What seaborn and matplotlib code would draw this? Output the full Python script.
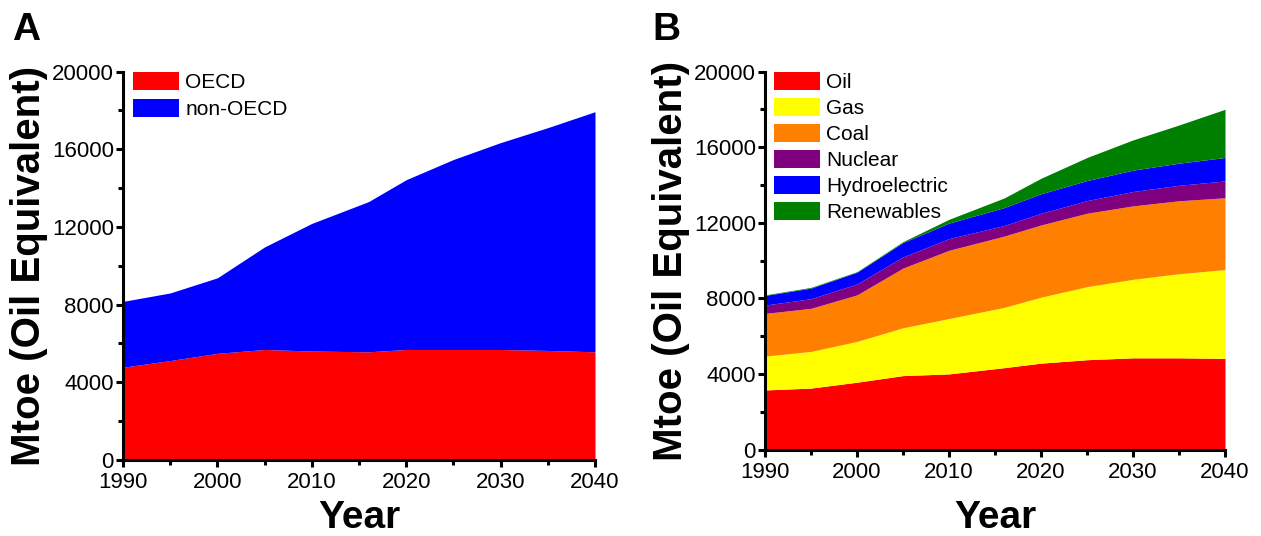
import matplotlib
matplotlib.use("Agg")
import matplotlib.pyplot as plt
from matplotlib.ticker import MultipleLocator
from matplotlib.patches import Patch
import seaborn as sns

# ---------------- data (Mtoe) ----------------
years = [1990, 1995, 2000, 2005, 2010, 2016, 2020, 2025, 2030, 2035, 2040]

# Panel A
oecd = [4775, 5120, 5490, 5690, 5610, 5570, 5690, 5690, 5690, 5640, 5570]
non_oecd = [3390, 3480, 3890, 5280, 6570, 7730, 8740, 9780, 10650, 11470, 12360]
region_labels = ["OECD", "non-OECD"]

# Panel B
oil = [3150, 3250, 3560, 3910, 4000, 4330, 4570, 4750, 4850, 4850, 4820]
gas = [1790, 1940, 2160, 2530, 2930, 3190, 3490, 3865, 4155, 4450, 4700]
coal = [2260, 2280, 2460, 3160, 3610, 3770, 3820, 3885, 3885, 3860, 3800]
nuclear = [440, 510, 580, 590, 620, 560, 620, 670, 760, 820, 890]
hydro = [510, 560, 620, 760, 820, 950, 1030, 1060, 1130, 1170, 1240]
renewables = [30, 40, 30, 50, 200, 510, 820, 1220, 1600, 2020, 2550]
fuel_labels = ["Oil", "Gas", "Coal", "Nuclear", "Hydroelectric", "Renewables"]

x_ticks = [1990, 2000, 2010, 2020, 2030, 2040]
y_ticks = [0, 4000, 8000, 12000, 16000, 20000]

region_colors = ["#FF0000", "#0000FF"]
fuel_colors = ["#FF0000", "#FFFF00", "#FF8000", "#800080", "#0000FF", "#008000"]

# ---------------- style ----------------
sns.set_theme(style="ticks")
plt.rcParams["font.family"] = ["Liberation Sans", "DejaVu Sans"]
plt.rcParams.update({
    "axes.linewidth": 2.2,
    "xtick.major.width": 2.2, "ytick.major.width": 2.2,
    "xtick.minor.width": 2.2, "ytick.minor.width": 2.2,
    "xtick.major.size": 5, "ytick.major.size": 5,
    "xtick.minor.size": 3.5, "ytick.minor.size": 3.5,
    "xtick.direction": "out", "ytick.direction": "out",
    "xtick.color": "black", "ytick.color": "black",
    "xtick.labelcolor": "black", "ytick.labelcolor": "black",
    "axes.edgecolor": "black", "axes.labelcolor": "black",
    "text.color": "black",
})

W, H = 1261, 536
fig = plt.figure(figsize=(W / 100, H / 100), dpi=100)

axA = fig.add_axes([123 / W, 1 - 460 / H, 472 / W, 388.5 / H])
axB = fig.add_axes([765 / W, 1 - 449.5 / H, 460 / W, 378 / H])


def style_axis(ax, tag, tag_x, xlabelpad, ylabel_x):
    ax.set_xlim(1990, 2040)
    ax.set_ylim(0, 20000)
    ax.set_xticks(x_ticks)
    ax.set_yticks(y_ticks)
    ax.xaxis.set_minor_locator(MultipleLocator(5))
    ax.yaxis.set_minor_locator(MultipleLocator(2000))
    ax.tick_params(axis="both", which="major", labelsize=16, colors="black")
    ax.tick_params(axis="x", which="major", pad=4)
    ax.tick_params(axis="y", which="major", pad=1.5)
    ax.set_xticklabels([str(v) for v in x_ticks])
    ax.set_yticklabels([str(v) for v in y_ticks])
    sns.despine(ax=ax)
    ax.set_xlabel("Year", fontsize=28, fontweight="bold", labelpad=xlabelpad)
    ax.set_ylabel("Mtoe (Oil Equivalent)", fontsize=29, fontweight="bold")
    ax.yaxis.set_label_coords(ylabel_x, 0.5)
    ax.set_facecolor("white")
    fig.text(tag_x / W, 1 - 40 / H, tag, fontsize=28, fontweight="bold",
             ha="left", va="baseline", color="black")


# Panel A
axA.stackplot(years, oecd, non_oecd, colors=region_colors, linewidth=0)
style_axis(axA, "A", 12, 5, -0.158)
handlesA = [Patch(facecolor=c, edgecolor="none") for c in region_colors]
axA.legend(handlesA, region_labels, loc="upper left", bbox_to_anchor=(0.022, 0.998),
           frameon=False, fontsize=15, handlelength=2.2, handleheight=0.95,
           handletextpad=0.3, labelspacing=0.33, borderpad=0, borderaxespad=0)

# Panel B
axB.stackplot(years, oil, gas, coal, nuclear, hydro, renewables,
              colors=fuel_colors, linewidth=0)
style_axis(axB, "B", 652, 12, -0.163)
handlesB = [Patch(facecolor=c, edgecolor="none") for c in fuel_colors]
axB.legend(handlesB, fuel_labels, loc="upper left", bbox_to_anchor=(0.019, 0.998),
           frameon=False, fontsize=15, handlelength=2.2, handleheight=0.95,
           handletextpad=0.3, labelspacing=0.28, borderpad=0, borderaxespad=0)

fig.savefig("out.png", dpi=100, facecolor="white")
